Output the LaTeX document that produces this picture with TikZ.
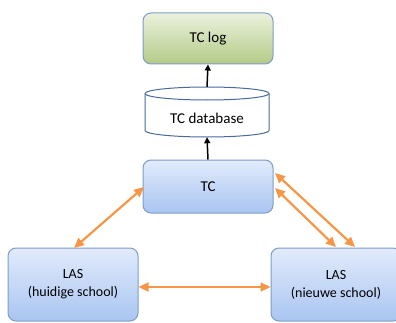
\documentclass[tikz,border=0pt]{standalone}
\usepackage{fontspec}
\setmainfont{Carlito}
\usetikzlibrary{arrows.meta}
\definecolor{bord}{HTML}{7F9CC8}
\definecolor{btop}{HTML}{E2EBFC}
\definecolor{bbot}{HTML}{A9C5F1}
\definecolor{gtop}{HTML}{EBF1DE}
\definecolor{gbot}{HTML}{B3CB87}
\definecolor{orng}{HTML}{F79646}
\definecolor{dbb}{HTML}{4A6A9C}
\tikzset{
  bluebox/.style={draw=bord, line width=1pt, rounded corners=8pt, top color=btop, bottom color=bbot, align=center, inner sep=0pt},
  greenbox/.style={draw=bord, line width=1pt, rounded corners=8pt, top color=gtop, bottom color=gbot, inner sep=0pt},
  blk/.style={-{Triangle[length=6pt,width=6pt]}, line width=1.5pt},
  org/.style={{Triangle[length=10pt,width=9pt]}-{Triangle[length=10pt,width=9pt]}, draw=orng, line width=2.2pt},
  bigtxt/.style={font=\fontsize{15}{17}\selectfont},
  smtxt/.style={font=\fontsize{14}{18}\selectfont}
}
\begin{document}
\begin{tikzpicture}[x=1pt,y=1pt]
\useasboundingbox (0,0) rectangle (396,322);
\node[greenbox, minimum width=130pt, minimum height=51pt, bigtxt] (log) at (208,283.5) {TC log};
% database cylinder
\draw[draw=dbb, line width=1pt, fill=white] (145,228.5) -- (145,191.5) arc (180:360:62 and 6.5) -- (269,228.5) arc (0:180:62 and 6.5) -- cycle;
\draw[draw=dbb, line width=1pt] (145,228.5) arc (180:360:62 and 6.5);
\node[minimum width=124pt, minimum height=50pt, inner sep=0pt] (db) at (207,210) {};
\node[bigtxt] (dbt) at (207,204) {TC database};
\node[bluebox, minimum width=130pt, minimum height=53pt, bigtxt] (tc) at (208,135.5) {TC};
\node[bluebox, minimum width=130pt, minimum height=73pt, smtxt] (lasl) at (73,37.5) {LAS\\(huidige school)};
\node[bluebox, minimum width=130pt, minimum height=73pt, smtxt] (lasr) at (336,37.5) {LAS\\(nieuwe school)};
% black arrows
\draw[blk] (db.north) -- (log.south);
\draw[blk] (tc.north) -- (db.south);
% orange arrows
\draw[org] (lasl.east |- 0,35) -- (lasr.west |- 0,35);
\coordinate (a1) at (74,74);
\coordinate (a2) at (144,135);
\draw[org] (a1) -- (a2);
\coordinate (b1) at (275,149);
\coordinate (b2) at (355,75);
\draw[org] (b1) -- (b2);
\coordinate (c1) at (275,134);
\coordinate (c2) at (336,75);
\draw[org] (c1) -- (c2);
\end{tikzpicture}
\end{document}
